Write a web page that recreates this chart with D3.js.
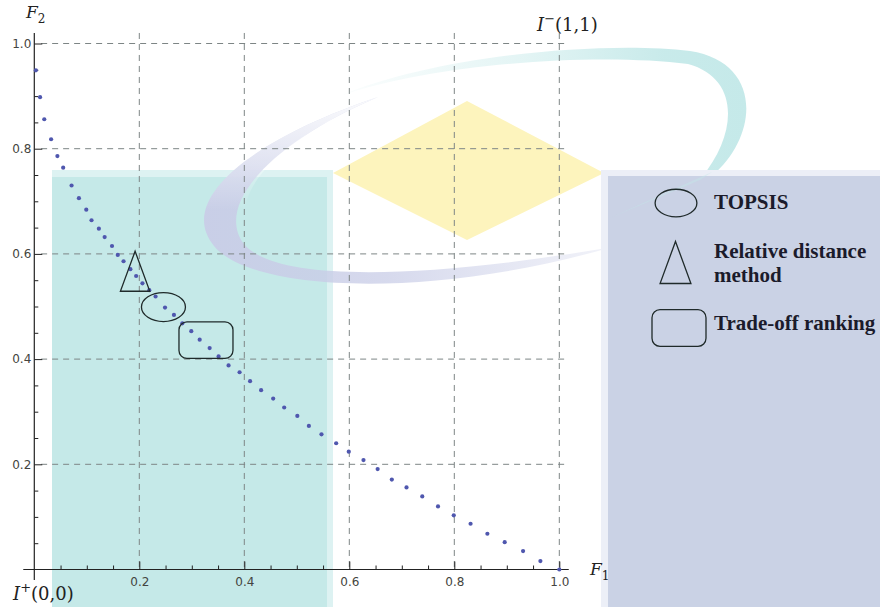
<!DOCTYPE html>
<html>
<head>
<meta charset="utf-8">
<script src="https://cdn.jsdelivr.net/npm/d3@7"></script>
<style>
  html, body { margin: 0; padding: 0; background: #fff; }
  svg { display: block; }
</style>
</head>
<body>
<svg id="chart" width="880" height="607"></svg>
<script>
// Pareto front points (F1, F2)
const f1 = [0.003, 0.011, 0.019, 0.032, 0.044, 0.055, 0.071, 0.085, 0.099, 0.109,
            0.123, 0.134, 0.148, 0.159, 0.170, 0.183, 0.194, 0.206, 0.219, 0.231,
            0.249, 0.266, 0.282, 0.299, 0.315, 0.334, 0.351, 0.370, 0.391, 0.411,
            0.432, 0.455, 0.476, 0.501, 0.523, 0.547, 0.575, 0.599, 0.627, 0.654,
            0.681, 0.709, 0.739, 0.769, 0.799, 0.831, 0.863, 0.896, 0.931, 0.964, 1.000];
const f2 = [0.949, 0.898, 0.856, 0.818, 0.786, 0.764, 0.730, 0.706, 0.684, 0.664,
            0.648, 0.632, 0.615, 0.598, 0.586, 0.571, 0.558, 0.544, 0.531, 0.519,
            0.498, 0.484, 0.468, 0.453, 0.437, 0.421, 0.405, 0.388, 0.375, 0.358,
            0.341, 0.325, 0.308, 0.292, 0.273, 0.257, 0.240, 0.224, 0.208, 0.191,
            0.171, 0.156, 0.139, 0.120, 0.103, 0.087, 0.068, 0.052, 0.035, 0.016, 0.000];

// Axis ticks
const tickValues = [0.2, 0.4, 0.6, 0.8, 1.0];
const tickLabels = ["0.2", "0.4", "0.6", "0.8", "1.0"];
const minorStep = 0.05;

// Compromise solutions picked by each method
const methods = ["TOPSIS", "Relative distance method", "Trade-off ranking"];
const methodShapes = ["ellipse", "triangle", "roundrect"];
const methodF1 = [0.246, 0.192, 0.327];
const methodF2 = [0.499, 0.567, 0.436];

const svg = d3.select("#chart");
const x = d3.scaleLinear().domain([0, 1]).range([34.3, 559.3]);
const y = d3.scaleLinear().domain([0, 1]).range([569.5, 43.5]);

const defs = svg.append("defs");
const gTeal = defs.append("linearGradient").attr("id", "tealSwoosh")
  .attr("gradientUnits", "userSpaceOnUse").attr("x1", 340).attr("y1", 0).attr("x2", 745).attr("y2", 0);
gTeal.append("stop").attr("offset", 0).attr("stop-color", "#c2e8e8").attr("stop-opacity", 0.05);
gTeal.append("stop").attr("offset", 0.45).attr("stop-color", "#c2e8e8").attr("stop-opacity", 0.45);
gTeal.append("stop").attr("offset", 0.8).attr("stop-color", "#c2e8e8").attr("stop-opacity", 0.9);
gTeal.append("stop").attr("offset", 1).attr("stop-color", "#c2e8e8").attr("stop-opacity", 0.95);

const gPurple = defs.append("linearGradient").attr("id", "purpleSwoosh")
  .attr("gradientUnits", "userSpaceOnUse").attr("x1", 205).attr("y1", 0).attr("x2", 610).attr("y2", 0);
gPurple.append("stop").attr("offset", 0).attr("stop-color", "#c9cde7").attr("stop-opacity", 0.95);
gPurple.append("stop").attr("offset", 0.45).attr("stop-color", "#c9cde7").attr("stop-opacity", 0.75);
gPurple.append("stop").attr("offset", 1).attr("stop-color", "#c9cde7").attr("stop-opacity", 0.25);

const gPurpleTip = defs.append("linearGradient").attr("id", "purpleTip")
  .attr("gradientUnits", "userSpaceOnUse").attr("x1", 0).attr("y1", 96).attr("x2", 0).attr("y2", 210);
gPurpleTip.append("stop").attr("offset", 0).attr("stop-color", "#fff").attr("stop-opacity", 0.9);
gPurpleTip.append("stop").attr("offset", 1).attr("stop-color", "#fff").attr("stop-opacity", 0);

// Background emblem
const deco = svg.append("g");
deco.append("rect").attr("x", 52).attr("y", 170).attr("width", 281).attr("height", 437).attr("fill", "#ddf2f2");
deco.append("rect").attr("x", 52).attr("y", 177).attr("width", 275).attr("height", 430).attr("fill", "#c5e9e8");
deco.append("path")
  .attr("d", "M333,173 L467,101 L604,173 L467,240 Z")
  .attr("fill", "#fdf4bd");
deco.append("path")
  .attr("d", "M378,97 C250,140 176,200 214,246 C252,292 430,300 612,247 " +
             "C420,280 275,282 244,244 C214,205 272,142 378,97 Z")
  .attr("fill", "url(#purpleSwoosh)");
deco.append("path")
  .attr("d", "M378,97 C250,140 176,200 214,246 L262,246 C214,205 272,142 378,97 Z")
  .attr("fill", "url(#purpleTip)");
deco.append("path")
  .attr("d", "M340,96 C430,57 600,40 690,51 C762,62 760,135 712,176 " +
             "L701,178 C738,134 740,78 688,64 C600,53 440,62 340,96 Z")
  .attr("fill", "url(#tealSwoosh)");
deco.append("rect").attr("x", 601).attr("y", 170).attr("width", 279).attr("height", 437).attr("fill", "#eceff7");
deco.append("rect").attr("x", 608).attr("y", 176).attr("width", 272).attr("height", 431).attr("fill", "#cad2e5");
deco.append("path")
  .attr("d", "M712,172 L700,180 L610,218 Z")
  .attr("fill", "#c2e8e8").attr("opacity", 0.4);

// Dashed grid
const grid = svg.append("g")
  .attr("stroke", "#7d8585").attr("stroke-width", 1).attr("stroke-dasharray", "6,5").attr("fill", "none");
grid.selectAll("line.v").data(tickValues).join("line").attr("class", "v")
  .attr("x1", d => x(d)).attr("x2", d => x(d))
  .attr("y1", y(1.02)).attr("y2", y(0));
grid.selectAll("line.h").data(tickValues).join("line").attr("class", "h")
  .attr("y1", d => y(d)).attr("y2", d => y(d))
  .attr("x1", x(0.013)).attr("x2", x(1.018));

// Axes (ticks point inwards)
const minorTicks = d3.range(minorStep, 1 + 1e-9, minorStep)
  .filter(v => !tickValues.some(t => Math.abs(t - v) < 1e-6));
const fmt = d => tickLabels[tickValues.findIndex(t => Math.abs(t - d) < 1e-6)];

function styleAxis(g) {
  g.select(".domain").remove();
  g.selectAll(".tick line").attr("stroke", "#222").attr("stroke-width", 1);
  g.selectAll(".tick text").attr("fill", "#444440")
    .attr("font-family", "'DejaVu Sans', sans-serif").attr("font-size", 12);
}

svg.append("g").attr("transform", `translate(0,${y(0)})`)
  .call(d3.axisBottom(x).tickValues(minorTicks).tickSize(-4).tickFormat(""))
  .call(styleAxis);
svg.append("g").attr("transform", `translate(0,${y(0)})`)
  .call(d3.axisBottom(x).tickValues(tickValues).tickSize(-8).tickPadding(8).tickFormat(fmt))
  .call(styleAxis);
svg.append("g").attr("transform", `translate(${x(0)},0)`)
  .call(d3.axisLeft(y).tickValues(minorTicks).tickSize(-4).tickFormat(""))
  .call(styleAxis);
svg.append("g").attr("transform", `translate(${x(0)},0)`)
  .call(d3.axisLeft(y).tickValues(tickValues).tickSize(-8).tickPadding(3).tickFormat(fmt))
  .call(styleAxis);

svg.append("line").attr("x1", x(-0.021)).attr("x2", x(1.018)).attr("y1", y(0)).attr("y2", y(0))
  .attr("stroke", "#222").attr("stroke-width", 1.2);
svg.append("line").attr("x1", x(0)).attr("x2", x(0)).attr("y1", y(1.02)).attr("y2", y(-0.02))
  .attr("stroke", "#222").attr("stroke-width", 1.2);

// Pareto points
svg.append("g").selectAll("circle").data(f1.map((v, i) => [v, f2[i]])).join("circle")
  .attr("cx", d => x(d[0])).attr("cy", d => y(d[1])).attr("r", 2.1)
  .attr("fill", "#4f57ae");

// Method markers
function drawShape(g, shape, cx, cy, s) {
  const stroke = "#1f2a2a";
  if (shape === "ellipse") {
    g.append("ellipse").attr("cx", cx).attr("cy", cy).attr("rx", 22 * s).attr("ry", 14.5 * s)
      .attr("fill", "none").attr("stroke", stroke).attr("stroke-width", 1.3);
  } else if (shape === "triangle") {
    const hw = 14.7 * s, hh = 20 * s;
    g.append("path")
      .attr("d", `M${cx},${cy - hh} L${cx + hw},${cy + hh} L${cx - hw},${cy + hh} Z`)
      .attr("fill", "none").attr("stroke", stroke).attr("stroke-width", 1.3).attr("stroke-linejoin", "miter");
  } else {
    g.append("rect").attr("x", cx - 27 * s).attr("y", cy - 18.3 * s)
      .attr("width", 54 * s).attr("height", 36.6 * s).attr("rx", 8).attr("ry", 8)
      .attr("fill", "none").attr("stroke", stroke).attr("stroke-width", 1.3);
  }
}
const marks = svg.append("g");
methods.forEach((m, i) => drawShape(marks, methodShapes[i], x(methodF1[i]), y(methodF2[i]), 1));

// Axis titles and ideal points
const serif = "'DejaVu Serif', serif";
const t2 = svg.append("text").attr("x", 26).attr("y", 18).attr("font-family", serif).attr("fill", "#222");
t2.append("tspan").attr("font-style", "italic").attr("font-size", 17).text("F");
t2.append("tspan").attr("font-size", 12).attr("dy", 5).text("2");

const t1 = svg.append("text").attr("x", 590).attr("y", 575).attr("font-family", serif).attr("fill", "#222");
t1.append("tspan").attr("font-style", "italic").attr("font-size", 17).text("F");
t1.append("tspan").attr("font-size", 12).attr("dy", 5).text("1");

function idealLabel(px, py, sign, coords) {
  const t = svg.append("text").attr("x", px).attr("y", py).attr("font-family", serif).attr("fill", "#222");
  t.append("tspan").attr("font-style", "italic").attr("font-size", 18).text("I");
  t.append("tspan").attr("font-size", 13).attr("dy", -8).text(sign);
  t.append("tspan").attr("font-size", 18).attr("dy", 8).text(coords);
}
idealLabel(13, 600, "+", "(0,0)");
idealLabel(537, 31, "\u2212", "(1,1)");

// Legend
const legend = svg.append("g");
const legendFont = "'Liberation Serif', 'Times New Roman', serif";
drawShape(legend, "ellipse", 676, 203, 0.95);
drawShape(legend, "triangle", 675.5, 262.5, 1.05);
drawShape(legend, "roundrect", 679, 328, 1.0);
const legendLines = [[methods[0]], ["Relative distance", "method"], [methods[2]]];
const legendBase = [208.5, 258, 330];
legendLines.forEach((lines, i) => {
  const t = legend.append("text").attr("x", 714).attr("y", legendBase[i])
    .attr("font-family", legendFont).attr("font-weight", "bold").attr("font-size", 21).attr("fill", "#1b1b2b");
  lines.forEach((l, j) => t.append("tspan").attr("x", 714).attr("dy", j === 0 ? 0 : 23.5).text(l));
});
</script>
</body>
</html>
